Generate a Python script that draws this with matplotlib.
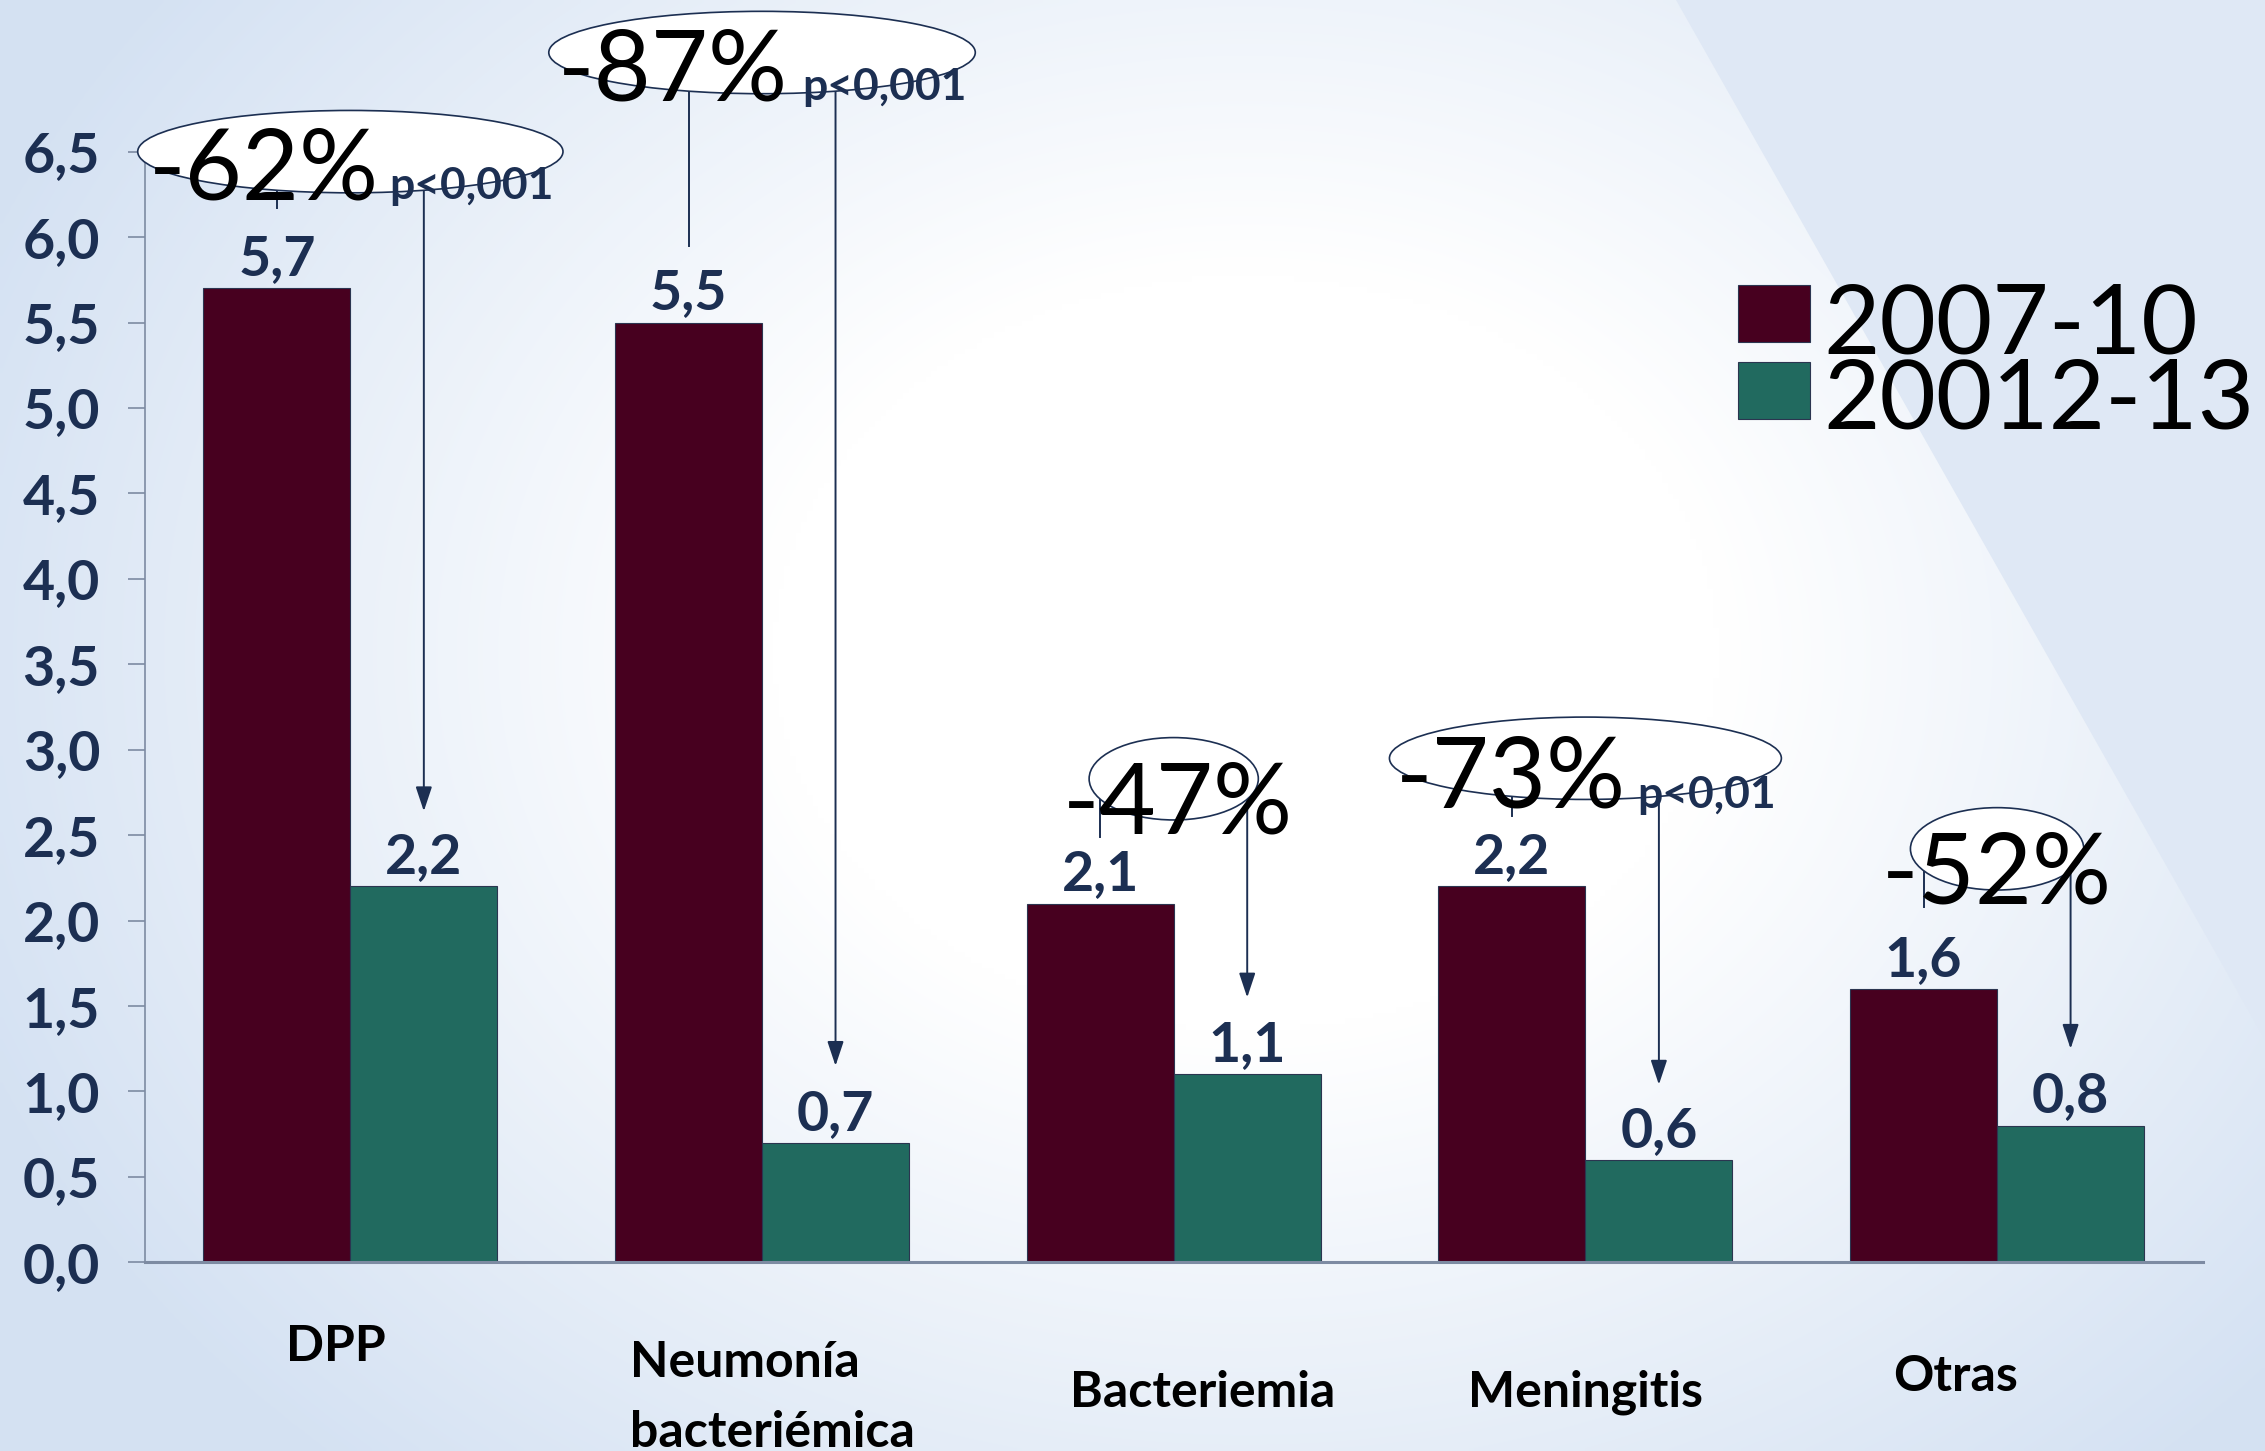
import matplotlib

matplotlib.use("Agg")

import matplotlib.pyplot as plt
import numpy as np
from matplotlib.patches import Ellipse, Polygon, Rectangle

plt.rcParams["font.family"] = ["Lato", "DejaVu Sans"]

# incidence per 100 000, two periods
CATEGORIES = ["DPP", "Neumonía\nbacteriémica", "Bacteriemia", "Meningitis", "Otras"]
PERIODS = ["2007-10", "20012-13"]
RATE_2007_10 = [5.7, 5.5, 2.1, 2.2, 1.6]
RATE_2012_13 = [2.2, 0.7, 1.1, 0.6, 0.8]
REDUCTION = ["-62%", "-87%", "-47%", "-73%", "-52%"]
P_VALUES = ["p<0,001", "p<0,001", "", "p<0,01", ""]

MAROON = "#47001f"
TEAL = "#216a5f"
NAVY = "#1c2f52"
GREY = "#7d8ba2"
BG_BLUE = np.array([0.835, 0.886, 0.952])
BAR_W = 0.357

W, H = 2265, 1451
fig = plt.figure(figsize=(W / 100, H / 100), dpi=100)

# soft bluish background, white towards the middle
bg = fig.add_axes([0, 0, 1, 1], zorder=-10)
u, v = np.meshgrid(np.linspace(0, 1, 400), np.linspace(0, 1, 260))
d = np.sqrt(((u - 0.55) / 0.6) ** 2 + ((v - 0.45) / 0.75) ** 2)
t = np.clip((d - 0.35) / 0.65, 0, 1)[..., None]
img = 1 + (BG_BLUE - 1) * t
bg.imshow(img, extent=[0, 1, 0, 1], aspect="auto", interpolation="bilinear")
bg.add_patch(Polygon([(1676 / W, 1), (1, 1), (1, 1 - 1040 / H)], closed=True,
                     facecolor="#dfe8f5", edgecolor="none"))
bg.set_xlim(0, 1)
bg.set_ylim(0, 1)
bg.axis("off")

ax = fig.add_axes([0.0638, 0.130, 0.9088, 0.7655])
ax.set_facecolor("none")

x = np.arange(len(CATEGORIES))
b1 = ax.bar(x - BAR_W / 2, RATE_2007_10, BAR_W, color=MAROON, edgecolor="#2b3550", linewidth=0.8, zorder=2)
b2 = ax.bar(x + BAR_W / 2, RATE_2012_13, BAR_W, color=TEAL, edgecolor="#2b3550", linewidth=0.8, zorder=2)
for bars, vals in ((b1, RATE_2007_10), (b2, RATE_2012_13)):
    ax.bar_label(bars, labels=[f"{val:.1f}".replace(".", ",") for val in vals], padding=3,
                 fontsize=40, fontweight="bold", color=NAVY)

ax.set_xlim(-0.5, 4.5)
ax.set_ylim(0, 6.5)
yt = np.arange(0, 6.51, 0.5)
ax.set_yticks(yt)
ax.set_yticklabels([f"{val:.1f}".replace(".", ",") for val in yt], fontsize=40,
                   fontweight="bold", color=NAVY)
ax.tick_params(axis="y", length=12, width=1.2, color=GREY, pad=20)
ax.set_xticks([])
for side in ("top", "right"):
    ax.spines[side].set_visible(False)
ax.spines["left"].set_color(GREY)
ax.spines["left"].set_linewidth(1.2)
ax.spines["bottom"].set_color(GREY)
ax.spines["bottom"].set_linewidth(2.2)

# category names, staggered as in the slide
cat_pos = [(-0.035, -0.58, "center"), (0.68, -0.668, "left"), (2.07, -0.845, "center"),
           (3.0, -0.845, "center"), (3.90, -0.75, "center")]
for name, (cx, cy, ha) in zip(CATEGORIES, cat_pos):
    lines = name.split("\n")
    for k, line in enumerate(lines):
        ax.text(cx, cy - k * 0.41, line, ha=ha, va="baseline", fontsize=36,
                fontweight="bold", color="black", clip_on=False)

# reduction call-outs: ellipse, percentage, bracket arrow from first to second bar
ell = [(0.0, 6.50, 1.033), (1.0, 7.08, 1.036), (2.0, 2.83, 0.411), (3.0, 2.95, 0.952), (4.0, 2.42, 0.421)]
leg_bottom = [6.17, 5.95, 2.49, 2.61, 2.08]
arrow_tip = [2.64, 1.15, 1.55, 1.04, 1.25]
pct_pos = [(-0.49, 6.22), (0.505, 6.80), (1.73, 2.51), (2.54, 2.66), (3.72, 2.10)]
p_x = [0.095, 1.098, None, 3.126, None]

for i in range(len(CATEGORIES)):
    ex, ey, ew = ell[i]
    xl, xr = i - BAR_W / 2, i + BAR_W / 2
    ax.plot([xl, xl], [ey, leg_bottom[i]], color=NAVY, lw=1.4, zorder=3, clip_on=False)
    ax.annotate("", xy=(xr, arrow_tip[i]), xytext=(xr, ey), annotation_clip=False,
                arrowprops=dict(arrowstyle="-|>,head_length=0.6,head_width=0.2", mutation_scale=25,
                                color=NAVY, lw=1.4, shrinkA=0, shrinkB=0), zorder=3)
    ax.add_patch(Ellipse((ex, ey), ew, 0.482, facecolor="white", edgecolor=NAVY,
                         linewidth=1.2, zorder=4, clip_on=False))
    px, py = pct_pos[i]
    ax.text(px, py, REDUCTION[i], ha="left", va="baseline", fontsize=71, color="black",
            zorder=5, clip_on=False)
    if P_VALUES[i]:
        ax.text(p_x[i], py, P_VALUES[i], ha="left", va="baseline", fontsize=32,
                fontweight="bold", color=NAVY, zorder=5, clip_on=False)

# legend drawn as two swatches with oversized labels
for k, (col, y0) in enumerate(((MAROON, 1 - 342 / H), (TEAL, 1 - 419 / H))):
    fig.patches.append(Rectangle((1738 / W, y0), 72 / W, 57 / H, transform=fig.transFigure,
                                 facecolor=col, edgecolor="#2b3550", linewidth=0.8))
    fig.text(1823 / W, [1 - 354 / H, 1 - 429 / H][k], PERIODS[k], ha="left", va="baseline",
             fontsize=70, color="black")

fig.savefig("out.png", dpi=100)
